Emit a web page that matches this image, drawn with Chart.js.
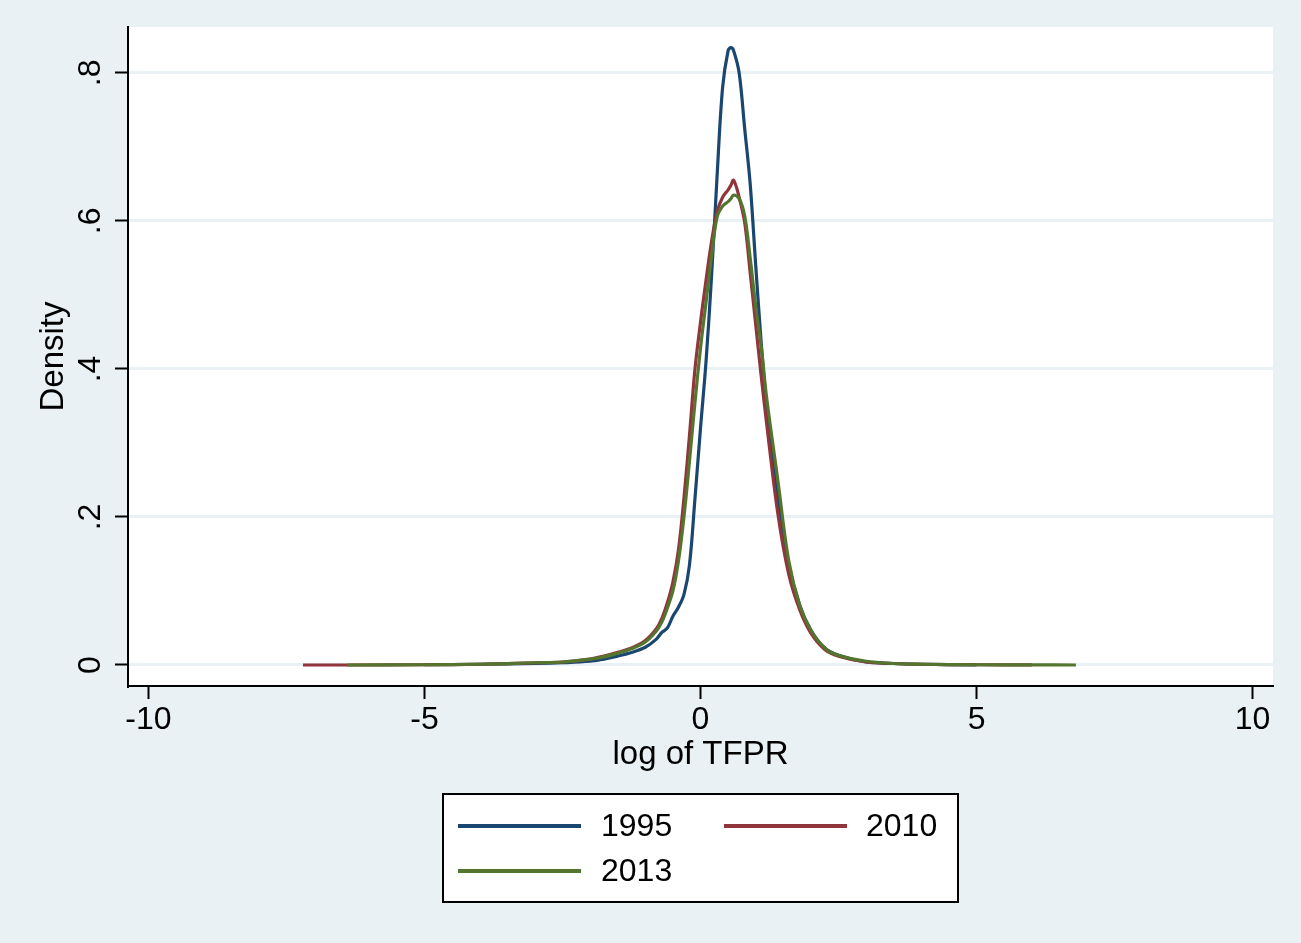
<!DOCTYPE html>
<html>
<head>
<meta charset="utf-8">
<script src="https://cdn.jsdelivr.net/npm/chart.js@4"></script>
<style>
  body { margin: 0; background: #eaf1f4; }
  #wrap { width: 1301px; height: 943px; position: relative; }
</style>
</head>
<body>
<div id="wrap"><canvas id="densityChart"></canvas></div>
<script>
// kernel density of log TFPR
var xs = [-7.2, -6.4, -5, -4, -3, -2.5, -2, -1.75, -1.5, -1.25, -1, -0.8, -0.7, -0.6, -0.5, -0.4, -0.3, -0.2, -0.1,
  0, 0.1, 0.2, 0.3, 0.4, 0.5, 0.55, 0.6, 0.7, 0.8, 0.9, 1.0, 1.1, 1.2, 1.4, 1.6, 1.8, 2.0, 2.25, 2.5, 3, 3.5, 4, 5, 6, 6.8];

var d1995 = [null, null, 0.0003, 0.001, 0.002, 0.003, 0.005, 0.008, 0.012, 0.017, 0.024, 0.035, 0.044, 0.05, 0.066, 0.078, 0.095, 0.135, 0.225,
  0.32, 0.41, 0.525, 0.66, 0.78, 0.83, 0.834, 0.83, 0.8, 0.725, 0.65, 0.54, 0.435, 0.348, 0.225, 0.135, 0.08, 0.047, 0.023, 0.013, 0.004, 0.002, 0.001, 0.0002, null, null];

var d2010 = [0, 0, 0.0003, 0.001, 0.003, 0.004, 0.008, 0.012, 0.017, 0.023, 0.033, 0.049, 0.063, 0.084, 0.112, 0.155, 0.225, 0.31, 0.4,
  0.463, 0.52, 0.572, 0.612, 0.632, 0.642, 0.648, 0.655, 0.632, 0.598, 0.53, 0.46, 0.39, 0.325, 0.205, 0.122, 0.074, 0.043, 0.021, 0.012, 0.004, 0.002, 0.001, 0.0003, 0.0001, null];

var d2013 = [null, 0, 0.0003, 0.001, 0.003, 0.004, 0.008, 0.011, 0.016, 0.022, 0.031, 0.046, 0.058, 0.077, 0.1, 0.14, 0.2, 0.275, 0.355,
  0.428, 0.49, 0.552, 0.605, 0.62, 0.626, 0.63, 0.635, 0.63, 0.607, 0.55, 0.485, 0.43, 0.36, 0.25, 0.14, 0.08, 0.047, 0.023, 0.013, 0.005, 0.002, 0.001, 0.0003, 0.0001, 0];

var seriesNames = ['1995', '2010', '2013'];
var xTicks = [-10, -5, 0, 5, 10];
var yTicks = [0, 0.2, 0.4, 0.6, 0.8];
var yTickLabels = ['0', '.2', '.4', '.6', '.8'];

function toPoints(ys) {
  var pts = [];
  for (var i = 0; i < xs.length; i++) {
    if (ys[i] !== null) pts.push({ x: xs[i], y: ys[i] });
  }
  return pts;
}

var FONT = "'Liberation Sans', Arial, Helvetica, sans-serif";
var BG = '#eaf1f4';

// background, white plot region, rotated y labels and the boxed legend
var stataLook = {
  id: 'stataLook',
  beforeDraw: function (chart) {
    var ctx = chart.ctx, a = chart.chartArea;
    ctx.save();
    ctx.fillStyle = BG;
    ctx.fillRect(0, 0, chart.width, chart.height);
    ctx.fillStyle = '#ffffff';
    ctx.fillRect(a.left, a.top, a.right - a.left, a.bottom - a.top);
    ctx.restore();
  },
  afterDraw: function (chart) {
    var ctx = chart.ctx, y = chart.scales.y;
    ctx.save();
    ctx.fillStyle = '#000';
    ctx.font = '32px ' + FONT;
    ctx.textAlign = 'center';
    ctx.textBaseline = 'alphabetic';
    yTicks.forEach(function (v, i) {
      ctx.save();
      ctx.translate(100, y.getPixelForValue(v));
      ctx.rotate(-Math.PI / 2);
      ctx.fillText(yTickLabels[i], 0, 0);
      ctx.restore();
    });

    // legend box
    var bx = 443, by = 794, bw = 515, bh = 108;
    ctx.fillStyle = '#ffffff';
    ctx.fillRect(bx, by, bw, bh);
    ctx.strokeStyle = '#000';
    ctx.lineWidth = 2;
    ctx.strokeRect(bx, by, bw, bh);
    var slots = [[458, 826, 601], [724, 826, 866], [458, 871, 601]];
    ctx.font = '32px ' + FONT;
    ctx.textAlign = 'left';
    ctx.textBaseline = 'middle';
    chart.data.datasets.forEach(function (ds, i) {
      var s = slots[i];
      ctx.strokeStyle = ds.borderColor;
      ctx.lineWidth = 4;
      ctx.beginPath();
      ctx.moveTo(s[0], s[1]);
      ctx.lineTo(s[0] + 123, s[1]);
      ctx.stroke();
      ctx.fillStyle = '#000';
      ctx.fillText(ds.label, s[2], s[1] + 1);
    });
    ctx.restore();
  }
};

var ctx = document.getElementById('densityChart').getContext('2d');
var densityChart = new Chart(ctx, {
  type: 'line',
  data: {
    datasets: [
      { label: seriesNames[0], data: toPoints(d1995), borderColor: '#1a476f', order: 2 },
      { label: seriesNames[1], data: toPoints(d2010), borderColor: '#90353b', order: 1 },
      { label: seriesNames[2], data: toPoints(d2013), borderColor: '#55752f', order: 0 }
    ]
  },
  options: {
    responsive: true,
    maintainAspectRatio: false,
    animation: false,
    layout: { padding: { left: 0, right: 28, top: 27, bottom: 168 } },
    elements: {
      point: { radius: 0 },
      line: { borderWidth: 3.2, tension: 0.35, fill: false }
    },
    plugins: { legend: { display: false }, tooltip: { enabled: false } },
    scales: {
      x: {
        type: 'linear',
        min: -10.37,
        max: 10.37,
        afterBuildTicks: function (s) { s.ticks = xTicks.map(function (v) { return { value: v }; }); },
        afterFit: function (s) { s.height = 89; },
        grid: { drawOnChartArea: false, tickColor: '#000', tickLength: 13, tickWidth: 2 },
        border: { color: '#000', width: 2 },
        ticks: { color: '#000', font: { family: FONT, size: 32 }, padding: 2, maxRotation: 0 },
        title: { display: true, text: 'log of TFPR', color: '#000', font: { family: FONT, size: 33 }, padding: { top: 0, bottom: 0 } }
      },
      y: {
        min: -0.0284,
        max: 0.862,
        afterBuildTicks: function (s) { s.ticks = yTicks.map(function (v) { return { value: v }; }); },
        afterFit: function (s) { s.width = 128; },
        grid: { color: BG, lineWidth: 3, tickColor: '#000', tickLength: 13, tickWidth: 2 },
        border: { color: '#000', width: 2 },
        ticks: { display: false },
        title: { display: true, text: 'Density', color: '#000', font: { family: FONT, size: 33 }, padding: { top: 34, bottom: 0 } }
      }
    }
  },
  plugins: [stataLook]
});
</script>
</body>
</html>
